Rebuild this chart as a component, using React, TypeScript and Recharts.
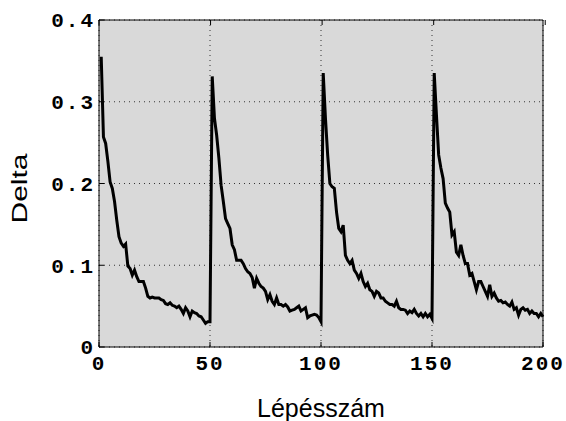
import { LineChart, Line, XAxis, YAxis, CartesianGrid } from 'recharts'

// Delta per step, one run of 50 steps each (restarts at 1, 51, 101, 151)
const run1 = [
  0.355, 0.257, 0.249, 0.227, 0.202, 0.194, 0.178, 0.155, 0.135, 0.127,
  0.123, 0.126, 0.099, 0.096, 0.088, 0.094, 0.086, 0.08, 0.08, 0.08,
  0.072, 0.062, 0.06, 0.061, 0.06, 0.06, 0.06, 0.058, 0.057, 0.053,
  0.052, 0.054, 0.051, 0.05, 0.048, 0.05, 0.046, 0.041, 0.048, 0.044,
  0.037, 0.044, 0.042, 0.041, 0.038, 0.037, 0.033, 0.029, 0.031, 0.031,
]
const run2 = [
  0.331, 0.28, 0.259, 0.231, 0.198, 0.178, 0.157, 0.151, 0.145, 0.125,
  0.119, 0.106, 0.106, 0.106, 0.102, 0.096, 0.092, 0.09, 0.085, 0.072,
  0.084, 0.078, 0.074, 0.072, 0.068, 0.058, 0.064, 0.056, 0.052, 0.06,
  0.052, 0.052, 0.05, 0.052, 0.049, 0.044, 0.045, 0.046, 0.048, 0.05,
  0.044, 0.046, 0.048, 0.036, 0.038, 0.039, 0.04, 0.039, 0.036, 0.031,
]
const run3 = [
  0.335, 0.28, 0.235, 0.2, 0.196, 0.194, 0.165, 0.145, 0.141, 0.149,
  0.112, 0.106, 0.102, 0.106, 0.094, 0.09, 0.084, 0.09, 0.08, 0.074,
  0.078, 0.07, 0.068, 0.062, 0.068, 0.066, 0.06, 0.06, 0.056, 0.054,
  0.052, 0.052, 0.05, 0.056, 0.048, 0.046, 0.046, 0.045, 0.041, 0.044,
  0.042, 0.046, 0.041, 0.038, 0.041, 0.037, 0.041, 0.037, 0.04, 0.035,
]
const run4 = [
  0.335, 0.284, 0.235, 0.219, 0.206, 0.176, 0.17, 0.165, 0.137, 0.141,
  0.116, 0.112, 0.125, 0.112, 0.102, 0.102, 0.088, 0.09, 0.08, 0.07,
  0.08, 0.08, 0.074, 0.068, 0.062, 0.076, 0.062, 0.066, 0.06, 0.056,
  0.057, 0.054, 0.055, 0.052, 0.05, 0.055, 0.046, 0.048, 0.039, 0.046,
  0.048, 0.045, 0.046, 0.041, 0.044, 0.041, 0.041, 0.037, 0.041, 0.037,
]

const xTicks = [0, 50, 100, 150, 200]
const yTicks = [0, 0.1, 0.2, 0.3, 0.4]

const data = [...run1, ...run2, ...run3, ...run4].map((delta, i) => ({ step: i + 1, delta }))

const tickFont = {
  fill: '#000',
  fontFamily: '"Liberation Mono", monospace',
  fontWeight: 'bold',
  fontSize: 21,
  letterSpacing: 2,
}

const titleFont = {
  fill: '#000',
  fontFamily: '"Liberation Sans", Arial, sans-serif',
  fontSize: 25,
}

// y-axis title is stretched along its reading direction in the reference
function DeltaLabel(props: any) {
  const vb = props.viewBox || { y: 20, height: 327 }
  const cy = vb.y + vb.height / 2 + 5
  return (
    <text
      transform={`translate(27, ${cy}) rotate(-90) scale(1.36, 1)`}
      textAnchor="middle"
      {...titleFont}
      fontSize={22}
    >
      Delta
    </text>
  )
}

export default function App() {
  return (
    <div style={{ position: 'absolute', left: 0, top: 0, background: '#fff' }}>
      <LineChart width={566} height={421} data={data} margin={{ top: 19, right: 22, bottom: 0, left: 0 }}>
        <CartesianGrid fill="#d9d9d9" stroke="#333" strokeDasharray="1 4" />
        <XAxis
          dataKey="step"
          type="number"
          domain={[0, 200]}
          ticks={xTicks}
          height={74}
          stroke="#000"
          tickSize={-5}
          tickMargin={13}
          tick={tickFont}
          label={{ value: 'Lépésszám', position: 'insideBottom', offset: 4, ...titleFont }}
        />
        <XAxis
          xAxisId="top"
          orientation="top"
          type="number"
          domain={[0, 200]}
          ticks={xTicks}
          height={1}
          stroke="#000"
          tickSize={-5}
          tickFormatter={() => ''}
        />
        <YAxis
          type="number"
          domain={[0, 0.4]}
          ticks={yTicks}
          width={99}
          stroke="#000"
          tickSize={-5}
          tickMargin={9}
          tick={tickFont}
          label={<DeltaLabel />}
        />
        <YAxis
          yAxisId="right"
          orientation="right"
          type="number"
          domain={[0, 0.4]}
          ticks={yTicks}
          width={1}
          stroke="#000"
          tickSize={-5}
          tickFormatter={() => ''}
        />
        <Line
          type="linear"
          dataKey="delta"
          stroke="#000"
          strokeWidth={3}
          dot={false}
          isAnimationActive={false}
        />
      </LineChart>
    </div>
  )
}
